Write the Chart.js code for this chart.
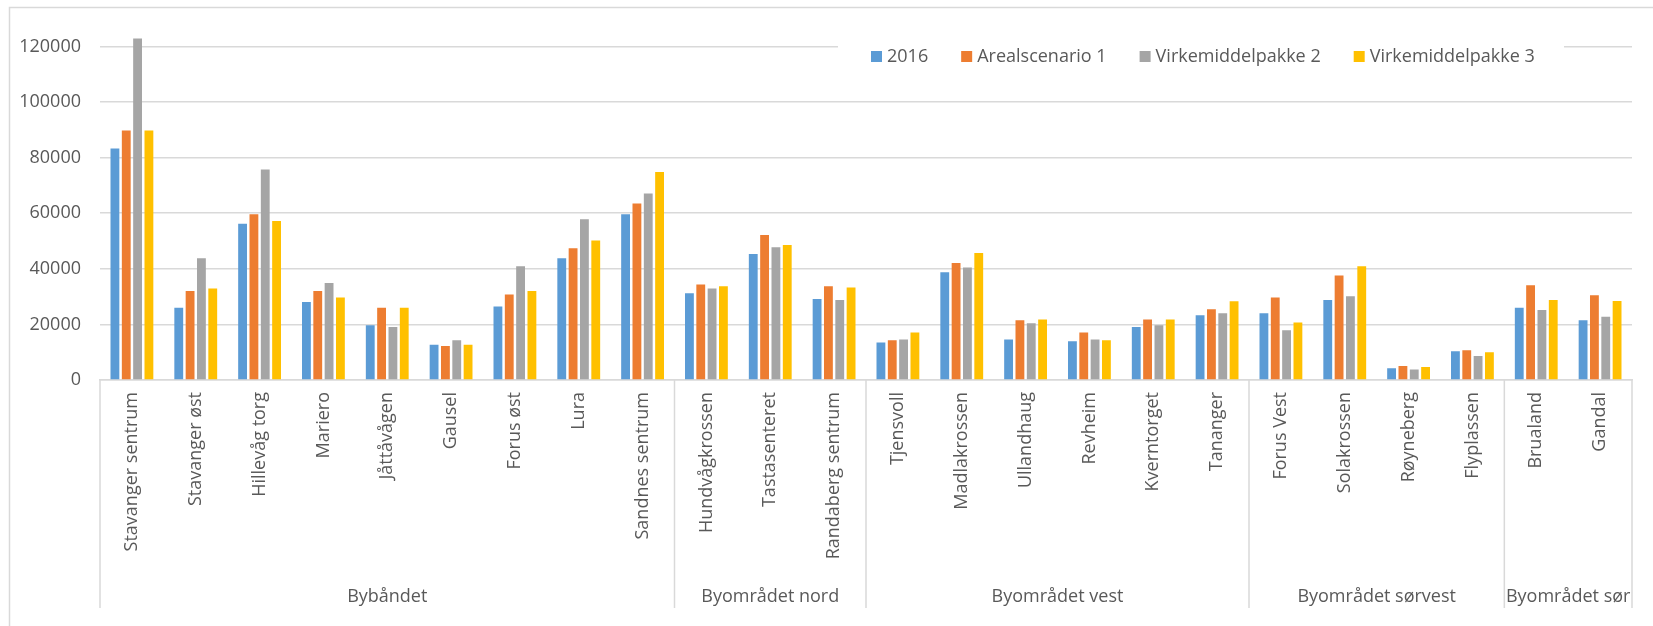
<!DOCTYPE html>
<html>
<head>
<meta charset="utf-8">
<script src="https://cdn.jsdelivr.net/npm/chart.js@4.4.0/dist/chart.umd.min.js"></script>
<style>
  html, body { margin: 0; padding: 0; background: #fff; }
  #wrap { width: 1653px; height: 626px; }
</style>
</head>
<body>
<div id="wrap"><canvas id="reiseChart" width="1653" height="626"></canvas></div>
<script>
// data
const steder = [
  'Stavanger sentrum', 'Stavanger øst', 'Hillevåg torg', 'Mariero', 'Jåttåvågen', 'Gausel',
  'Forus øst', 'Lura', 'Sandnes sentrum',
  'Hundvågkrossen', 'Tastasenteret', 'Randaberg sentrum',
  'Tjensvoll', 'Madlakrossen', 'Ullandhaug', 'Revheim', 'Kverntorget', 'Tananger',
  'Forus Vest', 'Solakrossen', 'Røyneberg', 'Flyplassen',
  'Brualand', 'Gandal'
]
const grupper = ['Bybåndet', 'Byområdet nord', 'Byområdet vest', 'Byområdet sørvest', 'Byområdet sør']
const gruppeAntall = [9, 3, 6, 4, 2]
const serieNavn = ['2016', 'Arealscenario 1', 'Virkemiddelpakke 2', 'Virkemiddelpakke 3']
const yTicks = [0, 20000, 40000, 60000, 80000, 100000, 120000]

const verdi2016 = [83300, 26000, 56200, 28100, 19700, 12700, 26400, 43800, 59600, 31200, 45300, 29100,
  13500, 38800, 14600, 13900, 19100, 23300, 24000, 28800, 4200, 10300, 26000, 21500]
const arealscenario1 = [89800, 32000, 59600, 32000, 26000, 12200, 30800, 47400, 63500, 34400, 52200, 33700,
  14300, 42100, 21500, 17100, 21800, 25500, 29700, 37600, 5000, 10700, 34100, 30500]
const virkemiddel2 = [122900, 43800, 75700, 34900, 19100, 14300, 40900, 57800, 67100, 32900, 47800, 28800,
  14600, 40500, 20400, 14600, 19700, 24000, 17900, 30100, 3800, 8600, 25200, 22800]
const virkemiddel3 = [89800, 32900, 57200, 29700, 26000, 12700, 32000, 50200, 74800, 33700, 48600, 33300,
  17100, 45700, 21800, 14300, 21800, 28300, 20700, 40900, 4700, 10000, 28800, 28400]

const farger = ['#5B9BD5', '#ED7D31', '#A5A5A5', '#FFC000']
const tekstFarge = '#595959'
const linjeFarge = '#d9d9d9'
const font = 'Open Sans'

// ramme, gruppeetiketter og forklaring
const ekstraPlugin = {
  id: 'ekstra',
  beforeDraw(chart) {
    const ctx = chart.ctx
    ctx.save()
    ctx.strokeStyle = linjeFarge
    ctx.lineWidth = 1.5
    ctx.beginPath()
    ctx.moveTo(9.5, 700)
    ctx.lineTo(9.5, 7.5)
    ctx.lineTo(1700, 7.5)
    ctx.stroke()
    ctx.restore()
  },
  afterDraw(chart) {
    const ctx = chart.ctx
    const x = chart.scales.x
    const bunn = x.top
    ctx.save()

    // skillelinjer mellom grupper
    const grenser = [x.left]
    let idx = 0
    gruppeAntall.forEach(n => {
      idx += n
      if (idx < steder.length) {
        grenser.push((x.getPixelForValue(idx - 1) + x.getPixelForValue(idx)) / 2)
      } else {
        grenser.push(x.right)
      }
    })
    ctx.strokeStyle = linjeFarge
    ctx.lineWidth = 1.5
    grenser.forEach(g => {
      ctx.beginPath()
      ctx.moveTo(g, bunn)
      ctx.lineTo(g, 608)
      ctx.stroke()
    })

    ctx.fillStyle = tekstFarge
    ctx.font = '18px "' + font + '"'
    ctx.textAlign = 'center'
    ctx.textBaseline = 'middle'
    grupper.forEach((navn, i) => {
      ctx.fillText(navn, (grenser[i] + grenser[i + 1]) / 2, 597)
    })

    // forklaring
    ctx.fillStyle = '#fff'
    ctx.fillRect(838, 30, 1564 - 838, 52)
    let lx = 871
    const ly = 56.5
    ctx.textAlign = 'left'
    chart.data.datasets.forEach((ds, i) => {
      ctx.fillStyle = ds.backgroundColor
      ctx.fillRect(lx, ly - 5.5, 11, 11)
      ctx.fillStyle = tekstFarge
      ctx.fillText(ds.label, lx + 16, ly)
      lx += 16 + ctx.measureText(ds.label).width + 33
    })
    ctx.restore()
  }
}

const data = {
  labels: steder,
  datasets: [verdi2016, arealscenario1, virkemiddel2, virkemiddel3].map((v, i) => ({
    label: serieNavn[i],
    data: v,
    backgroundColor: farger[i],
    categoryPercentage: 0.71,
    barPercentage: 0.78
  }))
}

const config = {
  type: 'bar',
  data: data,
  options: {
    responsive: false,
    animation: false,
    layout: {
      padding: { top: 7, right: 21, bottom: 0, left: 0 }
    },
    plugins: {
      legend: { display: false },
      tooltip: { enabled: false }
    },
    scales: {
      x: {
        grid: { display: false, drawTicks: false },
        border: { display: true, color: linjeFarge, width: 1.5 },
        ticks: {
          autoSkip: false,
          maxRotation: 90,
          minRotation: 90,
          padding: 12,
          color: tekstFarge,
          font: { family: font, size: 18 }
        },
        afterFit(scale) { scale.height = 246 }
      },
      y: {
        min: 0,
        max: 126000,
        grid: { color: linjeFarge, lineWidth: 1.5, drawTicks: false },
        border: { display: false },
        ticks: {
          padding: 19,
          color: tekstFarge,
          font: { family: font, size: 18 },
          callback: v => String(v)
        },
        afterBuildTicks(scale) {
          scale.ticks = yTicks.map(v => ({ value: v }))
        },
        afterFit(scale) { scale.width = 100 }
      }
    }
  },
  plugins: [ekstraPlugin]
}

const reiseChart = new Chart(document.querySelector('#reiseChart'), config)
</script>
</body>
</html>
